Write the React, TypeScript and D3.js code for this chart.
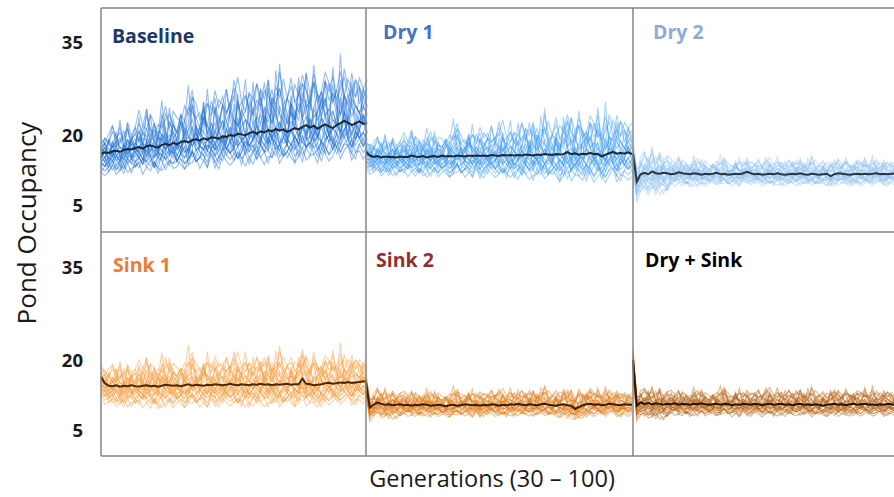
import * as d3 from "d3";
import { useRef, useEffect } from "react";

// generations shown in every panel
const generations = d3.range(30, 101);
const yTicks = [5, 20, 35];
const panelNames = ["Baseline", "Dry 1", "Dry 2", "Sink 1", "Sink 2", "Dry + Sink"];

// mean pond occupancy per generation (30..100)
const baselineMean = [
  16.0, 16.3, 16.1, 16.5, 16.6, 16.4, 16.8, 17.0, 16.9, 17.2,
  17.4, 17.1, 17.6, 17.8, 17.5, 17.3, 17.9, 18.1, 17.8, 18.3,
  18.0, 18.5, 18.7, 18.4, 18.9, 19.1, 18.8, 19.3, 19.0, 19.5,
  19.4, 19.2, 19.7, 19.6, 20.0, 19.8, 20.2, 20.1, 19.9, 20.3,
  20.5, 20.2, 20.6, 20.4, 20.8, 20.6, 21.0, 20.7, 20.9, 20.5,
  20.8, 21.1, 20.9, 21.3, 21.6, 21.2, 21.5, 21.0, 21.4, 21.7,
  21.4, 21.1, 21.6, 21.9, 22.3, 22.0, 21.6, 21.9, 22.2, 21.8,
  21.9];
const dry1Mean = [
  16.4, 15.6, 15.3, 15.5, 15.2, 15.4, 15.3, 15.3, 15.2, 15.4,
  15.3, 15.3, 15.6, 15.4, 15.3, 15.5, 15.2, 15.4, 15.5, 15.3,
  15.6, 15.4, 15.5, 15.4, 15.6, 15.5, 15.4, 15.6, 15.5, 15.6,
  15.5, 15.6, 15.5, 15.7, 15.6, 15.5, 15.7, 15.6, 15.7, 15.6,
  15.7, 15.6, 15.8, 15.7, 15.6, 15.8, 15.7, 15.9, 15.8, 15.7,
  15.9, 15.8, 15.9, 16.4, 15.9, 16.1, 15.8, 16.0, 15.9, 16.2,
  15.9, 16.0, 15.4, 15.8, 16.1, 16.4, 16.0, 16.2, 16.0, 16.3,
  15.9];
const dry2Mean = [
  16.0, 10.0, 11.6, 11.9, 11.6, 12.2, 11.8, 11.7, 11.9, 11.8,
  11.6, 11.7, 12.0, 11.8, 11.7, 11.6, 11.8, 11.7, 11.5, 11.7,
  11.6, 11.7, 11.9, 11.6, 11.7, 11.5, 11.6, 11.7, 11.6, 11.8,
  12.1, 11.8, 11.6, 11.7, 11.5, 11.6, 11.7, 11.6, 11.8, 11.6,
  11.5, 11.6, 11.7, 11.6, 11.8, 11.6, 11.5, 11.7, 11.6, 11.5,
  11.6, 11.7, 11.2, 11.6, 11.8, 11.7, 11.6, 11.5, 11.6, 11.7,
  11.6, 11.7, 11.6, 11.7, 11.8, 11.6, 11.7, 11.6, 11.7, 11.7,
  11.7];
const sink1Mean = [
  16.4, 15.0, 14.5, 14.4, 14.6, 14.3, 14.5, 14.4, 14.6, 14.4,
  14.3, 14.5, 14.6, 14.4, 14.5, 14.3, 14.5, 14.7, 14.6, 14.5,
  14.6, 14.4, 14.6, 14.8, 14.5, 14.7, 14.6, 14.5, 14.7, 14.6,
  14.8, 14.7, 14.6, 14.7, 14.9, 14.7, 14.6, 14.8, 14.7, 14.6,
  14.8, 14.7, 14.9, 14.7, 14.8, 14.6, 14.8, 14.7, 14.8, 14.9,
  14.7, 14.8, 14.8, 16.0, 14.9, 14.8, 14.6, 14.7, 14.8, 15.0,
  15.1, 14.9, 15.0, 15.2, 15.1, 15.3, 15.1, 15.2, 15.3, 15.4,
  15.5];
const sink2Mean = [
  15.2, 9.8, 10.4, 10.9, 10.6, 10.4, 10.5, 10.3, 10.4, 10.5,
  10.3, 10.4, 10.2, 10.4, 10.3, 10.5, 10.4, 10.2, 10.3, 10.4,
  10.3, 10.1, 10.3, 10.4, 10.2, 10.3, 10.5, 10.4, 10.3, 10.4,
  10.2, 10.4, 10.3, 10.5, 10.4, 10.2, 10.4, 10.3, 10.5, 10.4,
  10.6, 10.4, 10.3, 10.5, 10.4, 10.3, 10.5, 10.6, 10.4, 10.3,
  10.2, 10.4, 10.5, 10.3, 10.2, 9.5, 9.9, 10.3, 10.5, 10.6,
  10.4, 10.5, 10.3, 10.4, 10.6, 10.5, 10.4, 10.3, 10.5, 10.4,
  10.4];
const drySinkMean = [
  20.0, 10.2, 10.9, 10.6, 10.8, 10.5, 10.7, 10.6, 10.4, 10.6,
  10.5, 10.7, 10.4, 10.6, 10.5, 10.4, 10.6, 10.5, 10.7, 10.5,
  10.4, 10.5, 10.6, 10.4, 10.6, 10.5, 10.3, 10.5, 10.4, 10.6,
  10.5, 10.4, 10.6, 10.5, 10.3, 10.5, 10.6, 10.4, 10.5, 10.6,
  10.4, 10.5, 10.3, 10.5, 10.6, 10.4, 10.5, 10.3, 10.5, 10.4,
  10.2, 10.4, 10.5, 10.6, 10.4, 10.5, 10.3, 10.5, 10.6, 10.4,
  10.5, 10.6, 10.4, 10.5, 10.3, 10.5, 10.4, 10.6, 10.5, 10.4,
  10.5];

// spread of the runs around the mean, one value per block of ten generations
const baselineSpread = [1.0, 1.1, 1.2, 1.3, 1.35, 1.4, 1.4, 1.4];
const dry1Spread = [0.8, 0.85, 0.9, 0.95, 1.05, 1.15, 1.2, 1.2];
const dry2Spread = [0.9, 0.55, 0.5, 0.5, 0.5, 0.5, 0.5, 0.5];
const sink1Spread = [0.9, 0.95, 0.95, 0.95, 0.95, 0.95, 0.95, 0.95];
const sink2Spread = [0.6, 0.5, 0.5, 0.5, 0.5, 0.55, 0.5, 0.5];
const drySinkSpread = [0.65, 0.5, 0.5, 0.5, 0.5, 0.5, 0.5, 0.5];

// single simulation runs, as steps away from the mean
const runSteps = [
  [-1,-2,0,-1,-3,-1,0,-2,-1,1, -1,-2,-1,0,-2,-3,-1,0,1,-1, -2,-1,-2,0,-1,-3,-2,-1,0,-1, -2,0,1,-1,-2,-1,-3,-2,0,-1, -1,-2,0,-1,1,0,-2,-1,-3,-2, -1,0,-1,-2,-1,0,-2,-1,-3,-1, 0,-1,-2,-1,0,1,-1,-2,-1,0, -1],
  [2,4,3,6,2,3,5,1,3,4, 2,5,7,3,4,2,6,3,1,4, 3,5,2,6,8,4,3,5,2,4, 6,3,5,7,4,2,5,3,6,4, 3,7,5,2,4,6,3,8,5,3, 4,2,5,6,3,4,7,5,3,6, 4,5,2,6,4,3,7,4,5,3, 4],
  [0,1,-1,0,2,0,-1,1,0,-1, 1,0,2,1,-1,0,1,0,-1,2, 0,1,-1,0,1,2,0,-1,1,0, 2,1,0,-1,0,1,3,0,1,-1, 0,2,1,0,-1,1,0,2,1,0, 1,-1,0,2,0,1,-1,0,1,2, 0,1,0,-1,2,1,0,1,-1,0, 1],
  [-2,-3,-2,-1,-3,-2,-4,-2,-1,-3, -2,-1,-3,-2,-3,-1,-2,-4,-2,-3, -1,-2,-3,-2,-1,-3,-2,-2,-4,-1, -3,-2,-1,-2,-3,-2,-1,-3,-2,-4, -2,-3,-1,-2,-2,-3,-1,-2,-3,-2, -1,-3,-2,-4,-2,-1,-3,-2,-1,-2, -3,-2,-1,-3,-2,-2,-1,-3,-2,-1, -2],
  [1,2,1,3,2,0,2,3,1,2, 4,2,1,3,2,4,3,1,2,3, 1,3,4,2,3,1,2,4,3,2, 3,1,2,4,5,3,2,3,1,4, 2,3,5,3,2,4,3,1,3,2, 4,3,2,5,3,4,2,3,4,2, 3,5,4,2,3,1,4,3,2,3, 2],
  [0,3,-1,2,5,0,1,6,-1,2, 4,0,7,1,-1,3,8,2,0,5, 1,-1,4,9,2,0,3,6,1,-1, 5,2,0,7,3,1,-1,4,8,2, 0,3,6,1,-1,5,2,9,3,0, 4,1,7,2,-1,3,6,0,5,2, 1,8,3,-1,4,2,6,1,0,5, 3],
  [-1,0,-2,-1,0,-1,1,-1,-2,0, -1,-2,0,-1,-1,1,0,-2,-1,0, -1,0,-2,-1,1,0,-1,-2,0,-1, 0,-1,1,-1,-2,0,-1,0,-1,-2, 0,1,-1,-2,0,-1,0,-1,1,-1, -2,0,-1,-1,0,-2,1,0,-1,0, -1,-2,0,1,-1,0,-2,-1,0,-1, 0],
  [3,4,3,5,4,3,4,5,3,4, 5,4,6,4,3,5,4,5,6,4, 3,5,4,6,5,4,5,3,6,5, 4,6,5,4,5,7,4,5,6,4, 5,4,6,5,7,4,5,6,4,5, 6,4,5,7,5,4,6,5,4,6, 5,7,4,5,6,4,5,6,5,4, 5],
  [1,0,1,2,0,1,-1,1,2,0, -1,1,0,2,1,0,-1,2,1,0, 2,0,1,-1,1,2,1,0,-1,1, 0,2,1,0,2,-1,1,0,1,2, 1,0,-1,2,1,0,1,-1,0,1, 2,1,0,1,-1,2,0,1,2,0, 1,-1,1,0,2,1,0,-1,1,2, 0],
  [-2,-1,-3,-2,0,-2,-3,-1,-2,-3, -1,-2,2,-1,-3,-2,-1,-2,-3,0, -2,-1,-3,-2,-1,3,-1,-2,-3,-1, -2,-3,-1,0,-2,-1,-3,-2,1,-2, -1,-3,-2,-1,-2,4,-1,-3,-2,-1, -2,-1,-3,0,-2,-1,-2,-3,-1,-2, 2,-1,-3,-2,-1,-2,-3,-1,0,-2, -1],
  [2,1,4,2,3,6,2,1,3,5, 2,4,3,1,5,3,2,6,4,2, 3,5,2,4,7,3,2,5,3,6, 4,2,5,3,4,8,5,3,4,6, 3,5,4,7,3,5,4,6,3,5, 7,4,3,6,5,3,8,4,5,3, 6,4,5,3,7,5,4,6,3,5, 4],
  [0,-1,0,1,-1,0,-2,0,-1,1, 0,-1,-2,0,1,-1,0,-1,0,-2, 1,0,-1,0,-2,-1,0,1,-1,0, -1,0,-2,1,0,-1,0,-1,-2,0, 1,-1,0,-1,0,-2,1,0,-1,0, -1,0,1,-1,-2,0,-1,0,1,-1, 0,-1,0,-2,0,1,-1,0,-1,0, -1],
  [2,3,1,2,3,2,1,3,2,2, 1,3,2,4,2,1,3,2,3,1, 2,4,3,2,1,3,2,4,2,3, 1,2,3,2,4,3,1,2,3,2, 4,2,3,1,3,2,4,3,2,1, 3,2,4,2,3,1,2,3,4,2, 3,2,1,3,2,4,3,2,1,3, 2],
  [1,-1,4,0,2,7,1,-1,3,0, 6,1,-1,2,5,0,3,-1,7,2, 0,4,1,-1,6,3,0,2,8,1, -1,3,5,0,2,-1,6,1,3,0, 7,2,-1,4,1,0,8,3,1,-1, 5,2,0,3,7,1,-1,4,2,6, 0,3,1,9,2,-1,4,0,5,1, 2],
  [-3,-2,-1,-3,-2,-3,-1,-2,-4,-2, -3,-1,-2,-3,-2,-4,-3,-1,-2,-3, -2,-3,-4,-2,-1,-3,-2,-3,-1,-2, -4,-2,-3,-1,-2,-3,-2,-4,-1,-3, -2,-1,-3,-2,-4,-2,-3,-1,-2,-3, -2,-4,-1,-3,-2,-3,-1,-2,-4,-2, -3,-1,-2,-3,-2,-1,-3,-4,-2,-3, -2],
  [0,1,0,-1,1,2,0,1,-1,0, 1,2,0,1,0,-1,2,1,0,1, -1,0,1,2,0,1,0,-1,1,0, 2,0,1,-1,0,2,1,0,1,-1, 0,1,2,0,1,0,-1,1,2,0, 1,0,-1,1,0,2,1,0,-1,1, 0,2,1,0,1,-1,0,1,0,2, 1],
  [1,3,2,0,4,2,1,5,2,3, 0,4,2,6,1,3,2,0,5,3, 2,4,1,3,6,2,0,4,3,1, 5,2,3,0,4,6,2,3,1,5, 3,0,4,2,6,3,1,4,2,5, 3,1,6,2,4,0,3,5,2,4, 1,6,3,2,4,1,5,3,2,4, 3],
  [-1,-2,-1,0,-2,-1,-3,-1,0,-2, -1,0,-2,-1,-3,0,-1,-2,0,-1, -2,-1,0,-3,-1,-2,0,-1,-2,-1, 0,-2,-1,-1,0,-2,-3,-1,0,-1, -2,0,-1,-2,-1,0,-2,-1,-3,0, -1,-2,0,-1,-2,-1,0,-2,-1,-3, -1,0,-2,-1,0,-1,-2,0,-1,-2, -1],
  [0,2,1,0,1,-1,2,0,1,1, 0,2,-1,1,0,3,1,0,2,0, 1,-1,2,1,0,1,3,0,1,2, 0,1,-1,2,1,0,2,1,-1,0, 2,1,0,3,1,0,1,2,0,-1, 1,3,0,1,2,0,1,-1,2,1, 0,1,2,0,-1,2,1,0,2,1, 0],
  [4,3,5,6,4,5,3,6,4,5, 7,5,4,6,5,3,5,7,4,6, 5,4,6,5,7,6,4,5,6,4, 7,5,6,4,5,6,8,5,4,6, 5,7,4,6,5,4,6,5,7,5, 4,6,5,4,7,5,6,4,5,7, 6,4,5,7,4,6,5,4,6,5, 6],
  [-3,-4,-3,-2,-4,-3,-2,-4,-3,-3, -2,-4,-3,-4,-2,-3,-4,-3,-2,-4, -3,-2,-4,-3,-3,-2,-4,-3,-4,-2, -3,-4,-2,-3,-4,-3,-2,-3,-4,-3, -4,-2,-3,-4,-3,-3,-2,-4,-3,-2, -3,-4,-3,-2,-4,-3,-3,-4,-2,-3, -4,-3,-2,-4,-3,-2,-4,-3,-3,-4, -3],
  [0,1,0,3,0,-1,1,0,4,1, 0,-1,1,0,2,0,5,1,0,-1, 1,0,3,0,1,-1,0,6,1,0, -1,1,0,2,0,1,5,0,-1,1, 0,2,0,1,7,0,1,-1,0,3, 1,0,-1,1,0,5,1,0,2,0, -1,1,0,4,1,0,1,-1,0,2, 1],
  [2,1,3,2,2,4,1,2,3,1, 3,2,4,2,3,1,2,3,2,4, 3,1,2,3,4,2,3,2,1,3, 2,4,2,3,1,3,2,4,3,2, 1,3,2,4,3,2,3,1,4,2, 3,2,3,4,2,1,3,2,3,4, 2,3,1,2,4,3,2,3,2,1, 3],
  [-1,0,-2,1,-1,-2,0,3,-1,-2, 0,-1,2,-2,-1,0,-2,4,-1,0, -2,-1,0,-2,3,-1,-2,0,-1,2, -2,-1,0,-2,-1,5,-1,0,-2,-1, 0,-2,-1,3,-2,0,-1,-2,0,-1, 4,-2,-1,0,-2,-1,0,3,-2,-1, 0,-2,-1,0,2,-1,-2,0,-1,-2, 0],
];

const means = [baselineMean, dry1Mean, dry2Mean, sink1Mean, sink2Mean, drySinkMean];
const spreads = [baselineSpread, dry1Spread, dry2Spread, sink1Spread, sink2Spread, drySinkSpread];

// styling
const runColors = ["#1a6fd4", "#3d9cf2", "#8cc2f2", "#f99b3a", "#e07812", "#b3600f"];
const meanColors = ["#1b2838", "#1b2838", "#2a3542", "#4a2800", "#3d1c00", "#2a1300"];
const titleColors = ["#203864", "#4472c4", "#8faadc", "#ed7d31", "#8e3030", "#000000"];
const titlePos = [[112, 43], [383, 39], [653, 39], [113, 272], [376, 267], [645, 267]];

export default function App() {
  const svgRef = useRef(null);

  useEffect(() => {
    const W = 894, H = 497;
    const svg = d3.select(svgRef.current);
    svg.selectAll("*").remove();
    svg.attr("width", W).attr("height", H);

    const colX = [101, 366, 633];
    const panelW = 266;
    const rowTop = [8, 232];
    const rowBottom = [232, 456];
    const yRange = [[205, 135, 42], [430, 360, 267]];

    const font = "'Open Sans', 'Liberation Sans', sans-serif";

    for (let r = 0; r < 2; r++) {
      const y = d3.scaleLinear().domain(yTicks).range(yRange[r]);

      svg.append("g")
        .selectAll("text")
        .data(yTicks)
        .enter()
        .append("text")
        .attr("x", 83)
        .attr("y", (d) => y(d))
        .attr("dy", "0.36em")
        .attr("text-anchor", "end")
        .attr("font-family", font)
        .attr("font-weight", 700)
        .attr("font-size", 18.5)
        .attr("fill", "#1a1a1a")
        .text((d) => d);

      for (let c = 0; c < 3; c++) {
        const p = r * 3 + c;
        const x = d3.scaleLinear().domain([30, 100]).range([colX[c], colX[c] + panelW]);
        const mean = means[p];
        const spread = spreads[p];

        const runs = runSteps.map((steps) =>
          mean.map((m, i) => m + spread[Math.min(7, Math.floor(i / 10))] * (steps[i] - 1))
        );

        const line = d3.line<number>()
          .x((d, i) => x(generations[i]))
          .y((d) => y(d));

        const g = svg.append("g");
        g.selectAll("path.run")
          .data(runs)
          .enter()
          .append("path")
          .attr("class", "run")
          .attr("d", (d) => line(d))
          .attr("fill", "none")
          .attr("stroke", runColors[p])
          .attr("stroke-width", 1.1)
          .attr("stroke-opacity", 0.45);

        g.append("path")
          .attr("d", line(mean))
          .attr("fill", "none")
          .attr("stroke", meanColors[p])
          .attr("stroke-width", 2);

        g.append("text")
          .attr("x", titlePos[p][0])
          .attr("y", titlePos[p][1])
          .attr("font-family", font)
          .attr("font-weight", 700)
          .attr("font-size", 19.5)
          .attr("fill", titleColors[p])
          .text(panelNames[p]);
      }
    }

    // panel frame
    const frame = svg.append("g").attr("stroke", "#858585").attr("stroke-width", 1.5).attr("fill", "none");
    frame.append("line").attr("x1", 101).attr("x2", W).attr("y1", rowTop[0]).attr("y2", rowTop[0]);
    frame.append("line").attr("x1", 101).attr("x2", W).attr("y1", rowTop[1]).attr("y2", rowTop[1]);
    frame.append("line").attr("x1", 101).attr("x2", W).attr("y1", rowBottom[1]).attr("y2", rowBottom[1]);
    [101, 366, 633].forEach((xv) => {
      frame.append("line").attr("x1", xv).attr("x2", xv).attr("y1", rowTop[0]).attr("y2", rowBottom[1]);
    });

    svg.append("text")
      .attr("transform", "translate(36,223) rotate(-90)")
      .attr("text-anchor", "middle")
      .attr("font-family", font)
      .attr("font-size", 26)
      .attr("fill", "#1a1a1a")
      .text("Pond Occupancy");

    svg.append("text")
      .attr("x", 492)
      .attr("y", 487)
      .attr("text-anchor", "middle")
      .attr("font-family", font)
      .attr("font-size", 23.5)
      .attr("fill", "#1a1a1a")
      .text("Generations (30 – 100)");
  }, []);

  return (
    <div style={{ position: "absolute", left: 0, top: 0, background: "#fff" }}>
      <svg ref={svgRef}></svg>
    </div>
  );
}
